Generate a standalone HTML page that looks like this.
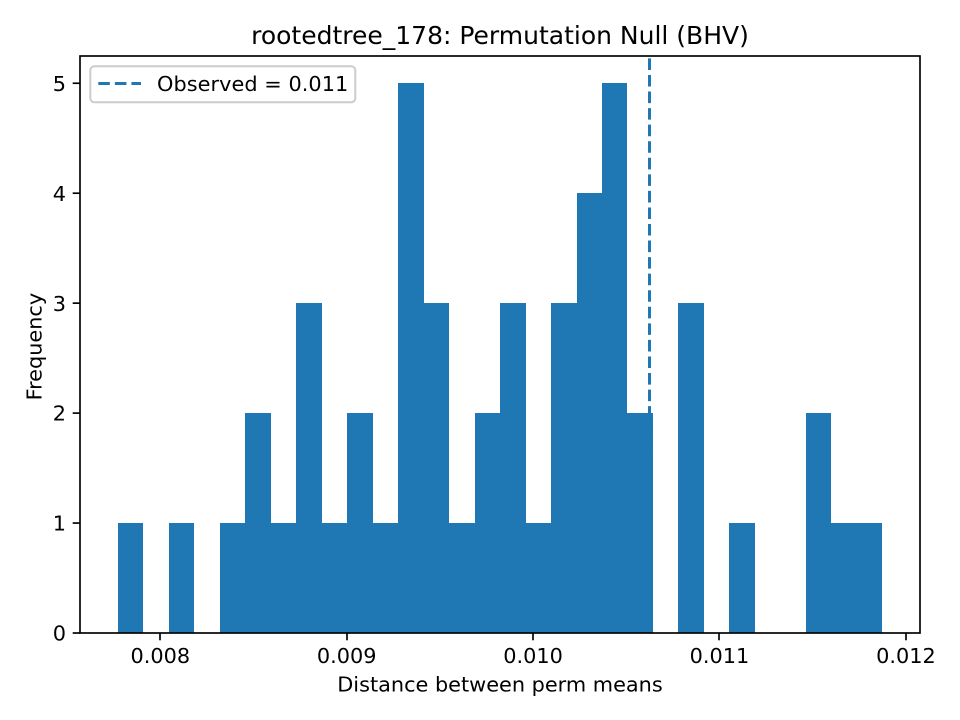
<!DOCTYPE html>
<html>
<head>
<meta charset="utf-8">
<style>
html,body{margin:0;padding:0;background:#fff;width:960px;height:720px;overflow:hidden}
svg{display:block}
text{font-family:"DejaVu Sans",sans-serif;fill:#000}
</style>
</head>
<body>
<svg id="chart" width="960" height="720" viewBox="0 0 960 720" xmlns="http://www.w3.org/2000/svg">
  <rect x="0" y="0" width="960" height="720" fill="#fff"/>
  <g id="bars" shape-rendering="crispEdges"></g>
  <path id="observed" fill="none" stroke="#1f77b4" stroke-width="3" stroke-dasharray="11.56 5"/>
  <g id="xticks"></g>
  <g id="yticks"></g>
  <rect x="80" y="56" width="840" height="577" fill="none" stroke="#000" stroke-width="1.67"/>
  <text x="500" y="44" font-size="25" text-anchor="middle">rootedtree_178: Permutation Null (BHV)</text>
  <text x="500" y="691.5" font-size="20.83" text-anchor="middle">Distance between perm means</text>
  <text transform="translate(41.5,346.6) rotate(-90)" font-size="20.83" text-anchor="middle">Frequency</text>
  <g>
    <rect x="90.3" y="66.3" width="265" height="36" rx="4" ry="4" fill="#fff" fill-opacity="0.8" stroke="#ccc" stroke-width="2"/>
    <line x1="98.3" y1="83.5" x2="141" y2="83.5" stroke="#1f77b4" stroke-width="3" stroke-dasharray="11.56 5"/>
    <text x="157" y="91.2" font-size="20.83" letter-spacing="0.05">Observed = 0.011</text>
  </g>
</svg>
<script>
const binCounts = [1,0,1,0,1,2,1,3,1,2,1,5,3,1,2,3,1,3,4,5,2,0,3,0,1,0,0,2,1,1];
const binLow = 0.00777307;
const binHigh = 0.01187296;
const observedValue = 0.010623;
const xTickValues = [0.008,0.009,0.010,0.011,0.012];
const xTickLabels = ["0.008","0.009","0.010","0.011","0.012"];
const yTickValues = [0,1,2,3,4,5];
const yTickLabels = ["0","1","2","3","4","5"];

const NS = "http://www.w3.org/2000/svg";
const xScale = v => 160.3 + (v - 0.008) * 186400;
const yScale = v => 633 - v * 109.95;

const barsGroup = document.getElementById("bars");
const binWidth = (binHigh - binLow) / binCounts.length;
binCounts.forEach((count, i) => {
  if (count === 0) return;
  const left = Math.round(xScale(binLow + i * binWidth));
  const right = Math.round(xScale(binLow + (i + 1) * binWidth));
  const top = Math.round(yScale(count));
  const rect = document.createElementNS(NS, "rect");
  
  
  rect.setAttribute("x", left);
  rect.setAttribute("y", top);
  rect.setAttribute("width", right - left);
  rect.setAttribute("height", yScale(0) - top);
  rect.setAttribute("fill", "#1f77b4");
  barsGroup.appendChild(rect);
});

const obsX = Math.floor(xScale(observedValue)) + 0.5;
document.getElementById("observed").setAttribute("d", "M" + obsX + " " + yScale(0) + " L" + obsX + " 56");

const xGroup = document.getElementById("xticks");
xTickValues.forEach((v, i) => {
  const x = xScale(v);
  const mark = document.createElementNS(NS, "line");
  
  
  mark.setAttribute("x1", Math.round(x));
  mark.setAttribute("x2", Math.round(x));
  mark.setAttribute("y1", 633);
  mark.setAttribute("y2", 640.3);
  mark.setAttribute("stroke", "#000");
  mark.setAttribute("stroke-width", "1.67");
  xGroup.appendChild(mark);
  const label = document.createElementNS(NS, "text");
  
  
  label.setAttribute("x", x);
  label.setAttribute("y", 662.8);
  label.setAttribute("font-size", "20.83");
  label.setAttribute("text-anchor", "middle");
  label.textContent = xTickLabels[i];
  xGroup.appendChild(label);
});

const yGroup = document.getElementById("yticks");
yTickValues.forEach((v, i) => {
  const y = yScale(v);
  const mark = document.createElementNS(NS, "line");
  
  
  mark.setAttribute("x1", 72.7);
  mark.setAttribute("x2", 80);
  mark.setAttribute("y1", y);
  mark.setAttribute("y2", y);
  mark.setAttribute("stroke", "#000");
  mark.setAttribute("stroke-width", "1.67");
  yGroup.appendChild(mark);
  const label = document.createElementNS(NS, "text");
  
  
  label.setAttribute("x", 66);
  label.setAttribute("y", y + 7.6);
  label.setAttribute("font-size", "20.83");
  label.setAttribute("text-anchor", "end");
  label.textContent = yTickLabels[i];
  yGroup.appendChild(label);
});
</script>
</body>
</html>
